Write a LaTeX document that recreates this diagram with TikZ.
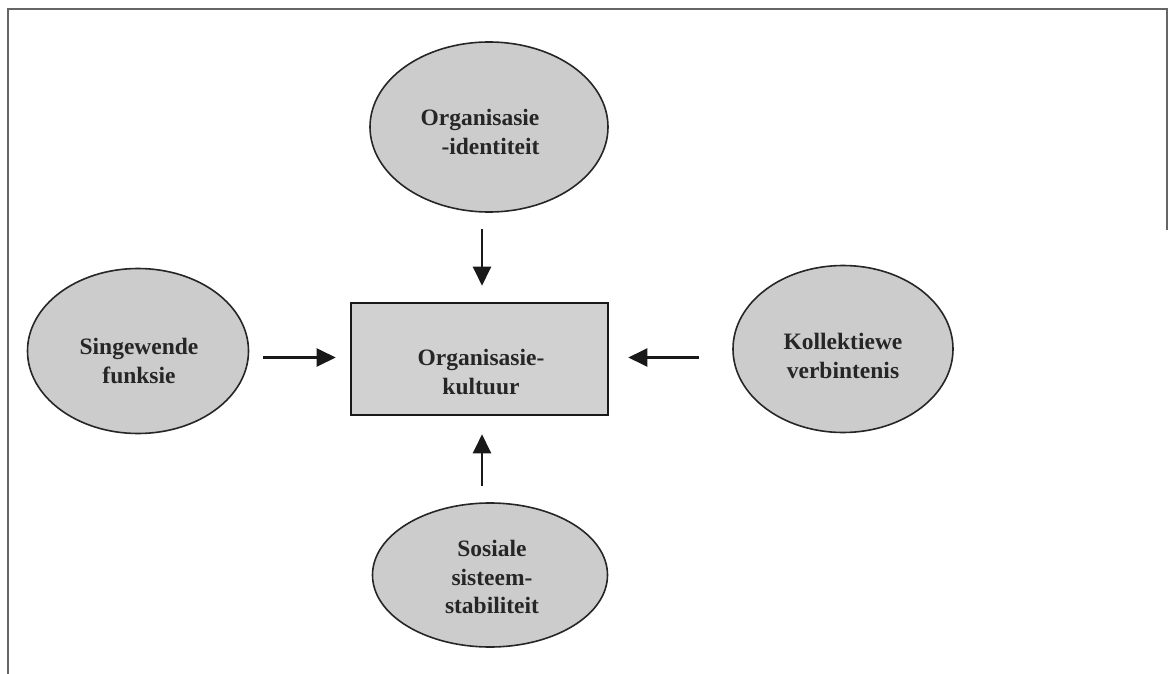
\documentclass[tikz,border=0pt]{standalone}
\usepackage{fontspec}
\setmainfont{Liberation Serif}
\usetikzlibrary{shapes.geometric,arrows.meta}
\tikzset{
  x=1pt,y=-1pt,
  oval/.style={ellipse,draw=black!85,line width=1.6pt,fill=black!20,inner sep=0pt},
  lbl/.style={font=\fontsize{23.5}{28.5}\selectfont\bfseries,text=black!85,align=center,inner sep=0pt},
  centrebox/.style={draw=black!90,line width=2.6pt,fill=black!18,inner sep=0pt,minimum width=257pt,minimum height=112pt},
  arr/.style={line width=2.4pt,black!90,-{Triangle[length=19pt,width=18pt]}},
  frameline/.style={black!60,line width=1.5pt}
}
\begin{document}
\begin{tikzpicture}
\useasboundingbox (0,0) rectangle (1170,674);
% frame
\coordinate (f1) at (8,674);
\coordinate (f2) at (8,9);
\coordinate (f3) at (1167,9);
\coordinate (f4) at (1167,230);
\draw[frameline] (f1) -- (f2) -- (f3) -- (f4);
% nodes
\node[centrebox] (box) at (479.5,359) {};
\node[oval,minimum width=238pt,minimum height=170pt] (top) at (489,127) {};
\node[oval,minimum width=221pt,minimum height=165pt] (left) at (138,351) {};
\node[oval,minimum width=220pt,minimum height=167pt] (right) at (843,349) {};
\node[oval,minimum width=235pt,minimum height=144pt] (bottom) at (490,575) {};
% texts
\node[lbl,align=right] (ttop) at (480,132) {Organisasie\\-identiteit};
\node[lbl] (tbox) at (481,372) {Organisasie-\\kultuur};
\node[lbl] (tleft) at (139,361) {Singewende\\funksie};
\node[lbl] (tright) at (843,356) {Kollektiewe\\verbintenis};
\node[lbl] (tbottom) at (492,577) {Sosiale\\sisteem-\\stabiliteit};
% arrows
\coordinate (ax) at (482,0);
\coordinate (ay) at (0,357.5);
\draw[arr,shorten <=16pt,shorten >=16pt] (top.south -| ax) -- (box.north -| ax);
\draw[arr,shorten <=16pt,shorten >=18pt] (bottom.north -| ax) -- (box.south -| ax);
\draw[arr,shorten <=14pt,shorten >=14pt] (left.east |- ay) -- (box.west |- ay);
\draw[arr,shorten <=33pt,shorten >=19pt] (right.west |- ay) -- (box.east |- ay);
\end{tikzpicture}
\end{document}
